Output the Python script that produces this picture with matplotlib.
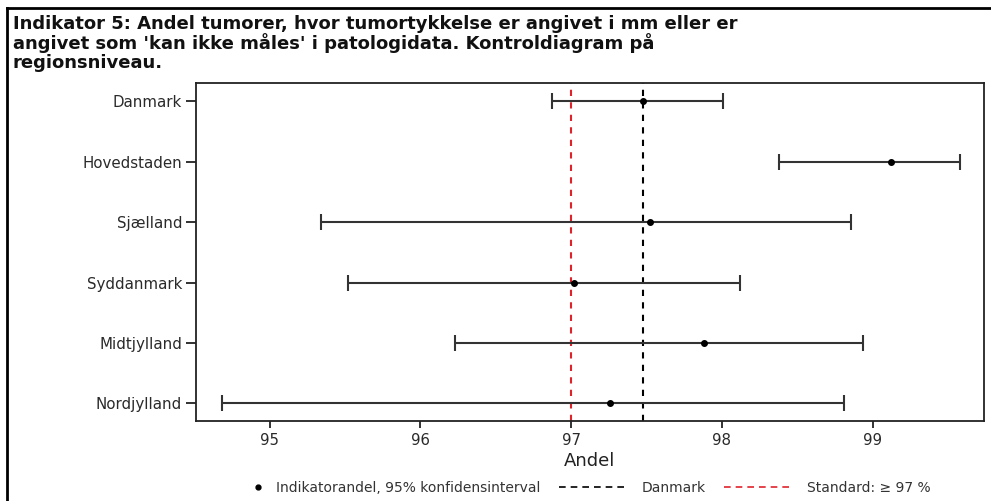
import matplotlib
matplotlib.use("Agg")
import matplotlib.pyplot as plt
from matplotlib.lines import Line2D
from matplotlib.legend_handler import HandlerLine2D
import numpy as np

regions = ["Danmark", "Hovedstaden", "Sjælland", "Syddanmark", "Midtjylland", "Nordjylland"]
andel = [97.48, 99.12, 97.52, 97.02, 97.88, 97.26]
lower = [96.87, 98.38, 95.34, 95.52, 96.23, 94.68]
upper = [98.01, 99.58, 98.86, 98.12, 98.94, 98.81]
danmark_value = 97.48
standard_value = 97.0
xticks = [95, 96, 97, 98, 99]

title = ("Indikator 5: Andel tumorer, hvor tumortykkelse er angivet i mm eller er\n"
         "angivet som 'kan ikke måles' i patologidata. Kontroldiagram på\n"
         "regionsniveau.")

plt.rcParams['font.family'] = ['DejaVu Sans']

W, H = 991, 501
fig = plt.figure(figsize=(W / 100, H / 100), dpi=100)
fig.patch.set_facecolor("white")

ax = fig.add_axes([196 / W, 1 - 421 / H, (984 - 196) / W, (421 - 83) / H])

y = np.arange(len(regions))
a = np.array(andel)
lo = a - np.array(lower)
hi = np.array(upper) - a

ax.errorbar(a, y, xerr=[lo, hi], fmt='none', ecolor='#333333', elinewidth=1.5,
            capsize=6, capthick=1.5, zorder=3)
ax.plot(a, y, 'o', color='black', markersize=4, zorder=4)

ax.axvline(danmark_value, color='black', linestyle=(0, (3, 3)), linewidth=1.5, zorder=2)
ax.axvline(standard_value, color='#e0232b', linestyle=(0, (3, 3)), linewidth=1.5, zorder=2)

ax.set_xlim(94.51, 99.74)
ax.set_ylim(len(regions) - 1 + 0.29, -0.3)
ax.set_yticks(y)
ax.set_yticklabels(regions, fontsize=10.8, color='#2a2a2a')
ax.set_xticks(xticks)
ax.set_xticklabels([str(t) for t in xticks], fontsize=10.8, color='#2a2a2a')
ax.tick_params(axis='both', direction='out', width=1.3, color='#222222')
ax.tick_params(axis='y', length=7, pad=3)
ax.tick_params(axis='x', length=5, pad=3.5)
for s in ax.spines.values():
    s.set_linewidth(1.3)
    s.set_color('#222222')
ax.set_xlabel("Andel", fontsize=13, color='#222222', labelpad=3)


class RightMarkerHandler(HandlerLine2D):
    def get_xdata(self, legend, xdescent, ydescent, width, height, fontsize):
        xm = np.array([width - xdescent - 3.0])
        return xm, xm


# Legend
h1 = Line2D([], [], marker='o', linestyle='none', color='black', markersize=3.5)
h2 = Line2D([], [], color='black', linestyle=(0, (4, 3)), linewidth=1.2)
h3 = Line2D([], [], color='#e0232b', linestyle=(0, (4, 3)), linewidth=1.2)
fig.legend([h1, h2, h3],
           ["Indikatorandel, 95% konfidensinterval", "Danmark", "Standard: \u2265 97 %"],
           loc='center', bbox_to_anchor=(562 / W, 1 - 488 / H), ncol=3,
           frameon=False, fontsize=10, handlelength=5.0, columnspacing=1.3,
           handletextpad=1.0, labelcolor='#333333',
           handler_map={h1: RightMarkerHandler(numpoints=1)})

# Title
fig.text(13 / W, 1 - 15 / H, title, ha='left', va='top', fontsize=13,
         fontweight='bold', color='#111111', linespacing=1.02)

# Outer frame (left and top edges visible)
fig.add_artist(Line2D([6.5 / W, 6.5 / W], [0, 1 - 7.5 / H], transform=fig.transFigure,
                      color='black', linewidth=2))
fig.add_artist(Line2D([6.5 / W, 1], [1 - 7.5 / H, 1 - 7.5 / H], transform=fig.transFigure,
                      color='black', linewidth=2))

fig.savefig("out.png", dpi=100)
